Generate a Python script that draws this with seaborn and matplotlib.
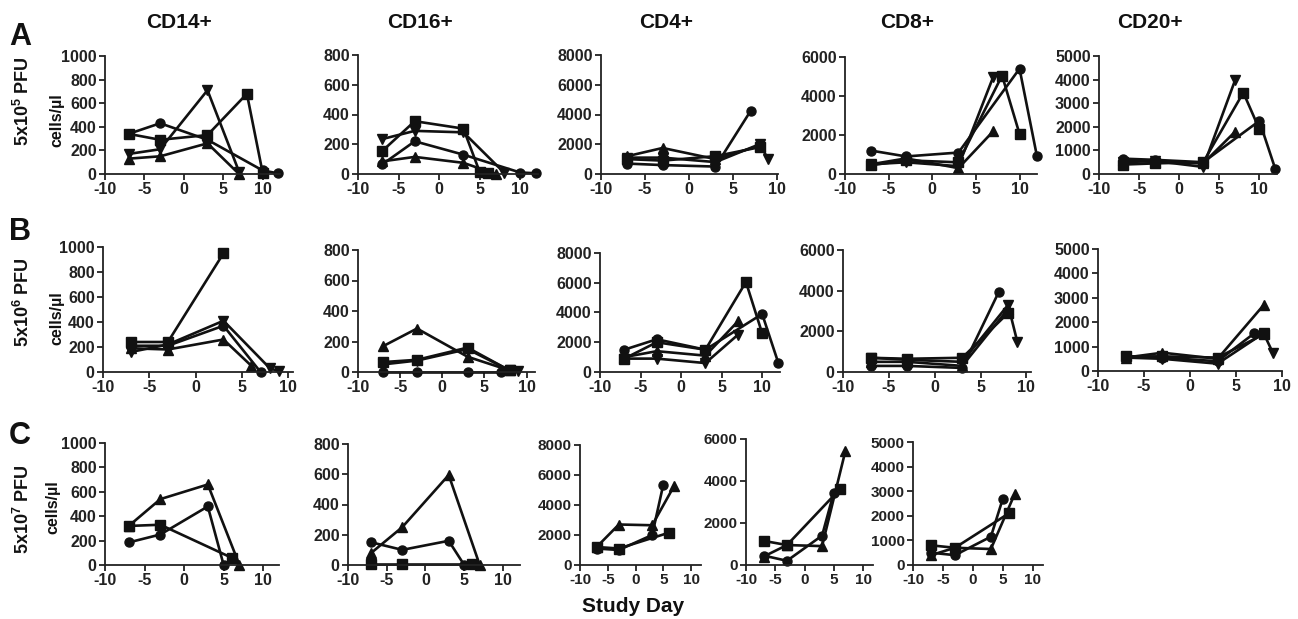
import matplotlib
matplotlib.use("Agg")
import matplotlib.pyplot as plt
import seaborn as sns
import pandas as pd

# ---------------- data ----------------
CELL_TYPES = ["CD14+", "CD16+", "CD4+", "CD8+", "CD20+"]
ROW_LETTERS = ["A", "B", "C"]
DOSE_LABELS = ["5x10$^5$ PFU", "5x10$^6$ PFU", "5x10$^7$ PFU"]
Y_MAX = [1000, 800, 8000, 6000, 5000]
Y_STEP = [200, 200, 2000, 2000, 1000]
X_TICKS = [-10, -5, 0, 5, 10]

# each panel: subject -> (study days, cells/ul)
A_CD14 = {"P1": ([-7, -3, 3, 10, 12], [340, 430, 290, 30, 5]),
          "P2": ([-7, -3, 3, 8, 10], [340, 290, 330, 680, 10]),
          "P3": ([-7, -3, 3, 7], [130, 150, 260, 0]),
          "P4": ([-7, -3, 3, 7], [170, 210, 710, 20])}
A_CD16 = {"P1": ([-7, -3, 3, 10, 12], [65, 220, 130, 10, 5]),
          "P2": ([-7, -3, 3, 5, 6], [155, 355, 305, 15, 5]),
          "P3": ([-7, -3, 3, 7], [85, 115, 75, 0]),
          "P4": ([-7, -3, 3, 8], [235, 290, 280, 10])}
A_CD4 = {"P1": ([-7, -3, 3, 7], [700, 600, 500, 4250]),
         "P2": ([-7, -3, 3, 8], [1000, 900, 1200, 1800]),
         "P3": ([-7, -3, 3, 8], [1200, 1750, 1000, 1900]),
         "P4": ([-7, -3, 3, 8, 9], [1100, 1100, 800, 2000, 1000])}
A_CD8 = {"P1": ([-7, -3, 3, 10, 12], [1200, 900, 1100, 5400, 900]),
         "P2": ([-7, -3, 3, 8, 10], [450, 700, 600, 5050, 2050]),
         "P3": ([-7, -3, 3, 7], [500, 800, 300, 2200]),
         "P4": ([-7, -3, 3, 7], [500, 600, 400, 5000])}
A_CD20 = {"P1": ([-7, -3, 3, 10, 12], [650, 600, 500, 2250, 200]),
          "P2": ([-7, -3, 3, 8, 10], [400, 450, 500, 3450, 1900]),
          "P3": ([-7, -3, 3, 7], [600, 500, 450, 1800]),
          "P4": ([-7, -3, 3, 7], [500, 550, 300, 4000])}

B_CD14 = {"P1": ([-7, -3, 3, 7], [210, 210, 370, 0]),
          "P2": ([-7, -3, 3], [240, 240, 950]),
          "P3": ([-7, -3, 3, 6], [190, 180, 260, 50]),
          "P4": ([-7, -3, 3, 8, 9], [160, 220, 410, 30, 5])}
B_CD16 = {"P1": ([-7, -3, 3, 7], [0, 0, 0, 0]),
          "P2": ([-7, -3, 3, 8], [65, 80, 160, 10]),
          "P3": ([-7, -3, 3, 8], [170, 285, 100, 10]),
          "P4": ([-7, -3, 3, 8, 9], [50, 75, 150, 10, 5])}
B_CD4 = {"P1": ([-7, -3, 3, 10, 12], [1500, 2200, 1500, 3900, 600]),
         "P2": ([-7, -3, 3, 8, 10], [900, 2000, 1500, 6050, 2600]),
         "P3": ([-7, -3, 3, 7], [1000, 1400, 1100, 3400]),
         "P4": ([-7, -3, 3, 7], [900, 900, 600, 2500])}
B_CD8 = {"P1": ([-7, -3, 3, 7], [300, 300, 200, 3950]),
         "P2": ([-7, -3, 3, 8], [700, 650, 700, 2900]),
         "P3": ([-7, -3, 3, 8], [500, 500, 300, 3100]),
         "P4": ([-7, -3, 3, 8, 9], [700, 600, 500, 3300, 1500])}
B_CD20 = {"P1": ([-7, -3, 3, 7], [600, 550, 400, 1550]),
          "P2": ([-7, -3, 3, 8], [600, 600, 550, 1500]),
          "P3": ([-7, -3, 3, 8], [550, 750, 500, 2700]),
          "P4": ([-7, -3, 3, 8, 9], [550, 500, 300, 1550, 750])}

C_CD14 = {"P1": ([-7, -3, 3, 5], [185, 250, 480, 0]),
          "P2": ([-7, -3, 6], [320, 330, 60]),
          "P3": ([-7, -3, 3, 7], [320, 540, 660, 0])}
C_CD16 = {"P1": ([-7, -3, 3, 5], [150, 100, 160, 0]),
          "P2": ([-7, -3, 6], [5, 5, 5]),
          "P3": ([-7, -3, 3, 7], [80, 250, 595, 0])}
C_CD4 = {"P1": ([-7, -3, 3, 5], [1100, 1000, 2000, 5350]),
         "P2": ([-7, -3, 6], [1200, 1100, 2150]),
         "P3": ([-7, -3, 3, 7], [1200, 2700, 2650, 5300])}
C_CD8 = {"P1": ([-7, -3, 3, 5], [450, 200, 1400, 3450]),
         "P2": ([-7, -3, 6], [1150, 950, 3600]),
         "P3": ([-7, -3, 3, 7], [400, 950, 900, 5450])}
C_CD20 = {"P1": ([-7, -3, 3, 5], [500, 400, 1150, 2700]),
          "P2": ([-7, -3, 6], [800, 700, 2100]),
          "P3": ([-7, -3, 3, 7], [400, 700, 650, 2900])}

PANELS = [[A_CD14, A_CD16, A_CD4, A_CD8, A_CD20],
          [B_CD14, B_CD16, B_CD4, B_CD8, B_CD20],
          [C_CD14, C_CD16, C_CD4, C_CD8, C_CD20]]

# ---------------- styles / layout ----------------
SUBJECT_MARKERS = {"P1": "o", "P2": "s", "P3": "^", "P4": "v"}

W, H = 1298, 619
# (left px, right px, top px, bottom px, x max)
BOXES = [
    [(105, 280, 56, 174, 12.2), (358, 538, 55, 174, 12.2), (601, 778, 55, 174, 10.1),
     (845, 1037, 57, 174, 12.0), (1099, 1277, 56, 174, 12.2)],
    [(103, 293, 247, 372, 10.5), (358, 535, 250, 372, 11.0), (600, 780, 253, 372, 12.2),
     (843, 1031, 250, 372, 10.5), (1098, 1282, 249, 371, 10.0)],
    [(105, 279, 443, 565, 12.0), (348, 520, 444, 565, 12.2), (580, 701, 445, 565, 11.8),
     (746, 873, 439, 565, 11.7), (913, 1043, 442, 565, 11.7)],
]
TITLE_X = [179, 420, 666, 907, 1150]

sns.set_theme(style="ticks")
plt.rcParams["font.family"] = ["Liberation Sans", "DejaVu Sans"]
plt.rcParams["font.weight"] = "bold"
plt.rcParams["axes.unicode_minus"] = False
plt.rcParams["mathtext.fontset"] = "custom"
plt.rcParams["mathtext.rm"] = "Liberation Sans:bold"
plt.rcParams["mathtext.bf"] = "Liberation Sans:bold"
plt.rcParams["mathtext.default"] = "bf"

fig = plt.figure(figsize=(W / 100, H / 100), dpi=100)
fig.patch.set_facecolor("white")

for r in range(3):
    for c in range(5):
        l, rt, tp, bt, xmax = BOXES[r][c]
        ax = fig.add_axes([l / W, 1 - bt / H, (rt - l) / W, (bt - tp) / H])
        rows = []
        for subj, (days, vals) in PANELS[r][c].items():
            for d, v in zip(days, vals):
                rows.append({"day": d, "cells": v, "subject": subj})
        df = pd.DataFrame(rows)
        subs = list(PANELS[r][c].keys())
        sns.lineplot(data=df, x="day", y="cells", style="subject",
                     markers={s: SUBJECT_MARKERS[s] for s in subs}, dashes=False,
                     units="subject", estimator=None, sort=False, color="#111111",
                     linewidth=1.9, markersize=6.5, markeredgecolor="#111111",
                     markeredgewidth=1.0, legend=False, clip_on=False, ax=ax)
        ax.set_xlim(-10, xmax)
        ax.set_ylim(0, Y_MAX[c])
        ax.set_xticks(X_TICKS)
        ax.set_yticks(range(0, Y_MAX[c] + 1, Y_STEP[c]))
        ax.set_xlabel("")
        ax.set_ylabel("")
        sns.despine(ax=ax)
        for sp in ("left", "bottom"):
            ax.spines[sp].set_linewidth(1.3)
            ax.spines[sp].set_color("#222222")
        ax.tick_params(axis="both", direction="out", length=4, width=1.3,
                       color="#222222", pad=2)
        narrow = (r == 2 and c >= 2)
        for lab in ax.get_xticklabels() + ax.get_yticklabels():
            lab.set_fontweight("bold")
            lab.set_fontsize(11 if narrow else 11.5)
            lab.set_color("#222222")
        ax.patch.set_alpha(0)

# column titles
for c, name in enumerate(CELL_TYPES):
    fig.text(TITLE_X[c] / W, 1 - 22 / H, name, ha="center", va="center",
             fontsize=15, fontweight="bold", color="#111111")

# row letters and labels
LETTER_Y = [37, 232, 436]
DOSE_Y = [101, 302, 509]
CELLS_Y = [120, 318, 507]
CELLS_X = [57, 57, 53]
for r in range(3):
    fig.text(20 / W, 1 - LETTER_Y[r] / H, ROW_LETTERS[r], ha="center", va="center",
             fontsize=22, fontweight="bold", color="#111111")
    fig.text(23 / W, 1 - DOSE_Y[r] / H, DOSE_LABELS[r], ha="center", va="center",
             rotation=90, fontsize=13, fontweight="bold", color="#111111")
    fig.text(CELLS_X[r] / W, 1 - CELLS_Y[r] / H, "cells/\u00b5l", ha="center", va="center",
             rotation=90, fontsize=11.5, fontweight="bold", color="#111111")

fig.text(633 / W, 1 - 607 / H, "Study Day", ha="center", va="center",
         fontsize=15, fontweight="bold", color="#111111")

fig.savefig("out.png", dpi=100, facecolor="white")
